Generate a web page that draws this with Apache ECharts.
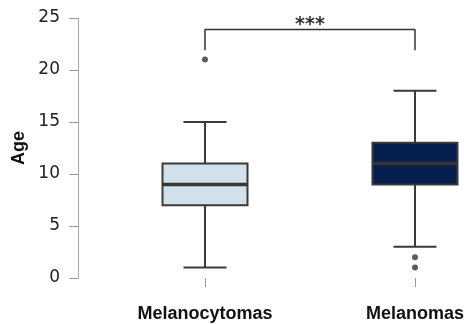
<!DOCTYPE html>
<html><head><meta charset="utf-8">
<script src="https://cdn.jsdelivr.net/npm/echarts@6/dist/echarts.min.js"></script>
<style>html,body{margin:0;padding:0;background:#fff}#c{width:467px;height:324px}</style>
</head><body><div id="c"></div>
<script>
const categories = ['Melanocytomas', 'Melanomas'];
// [min, Q1, median, Q3, max]
const boxValues = [[1, 7, 9, 11, 15], [3, 9, 11, 13, 18]];
const outliers = [[0, 21], [1, 2], [1, 1]];
const boxColors = ['#d1e1ec', '#071f4e'];
const yTicks = [0, 5, 10, 15, 20, 25];
const bracket = [[0, 21.9], [0, 23.9], [1, 23.9], [1, 21.9]];
const sigLabel = '***';
const yName = 'Age';

const chart = echarts.init(document.getElementById('c'));
const ink = '#3a3a3a';
const BOX_W = 85, CAP_W = 43;
chart.setOption({
  animation: false,
  grid: { left: 205, right: 48, top: 18, bottom: 46 },
  xAxis: {
    type: 'category', data: categories, offset: 14, boundaryGap: false,
    axisLine: { show: false },
    axisTick: { show: true, length: 9, lineStyle: { color: '#999', width: 1 } },
    axisLabel: { margin: 13, fontSize: 18, fontWeight: 'bold', color: '#111', fontFamily: 'Liberation Sans, Arial, sans-serif' },
    splitLine: { show: false }
  },
  yAxis: {
    type: 'value', min: 0, max: 25, interval: 5, offset: 127,
    name: yName, nameLocation: 'middle', nameGap: 50,
    nameTextStyle: { fontSize: 18, fontWeight: 'bold', color: '#111', fontFamily: 'Liberation Sans, Arial, sans-serif' },
    axisLine: { show: true, lineStyle: { color: '#aaa', width: 1 } },
    axisTick: { show: true, length: 9, lineStyle: { color: '#999' } },
    axisLabel: { margin: 18, fontSize: 17, color: '#222', fontFamily: 'DejaVu Sans, sans-serif',
      formatter: v => yTicks.includes(v) ? String(v) : '' },
    splitLine: { show: false }
  },
  series: [
    {
      type: 'custom',
      data: boxValues.map((v, i) => [i].concat(v)),
      renderItem: function (params, api) {
        const i = api.value(0);
        const lo = api.coord([i, api.value(1)]);
        const q1 = api.coord([i, api.value(2)]);
        const md = api.coord([i, api.value(3)]);
        const q3 = api.coord([i, api.value(4)]);
        const hi = api.coord([i, api.value(5)]);
        const x = lo[0];
        const ls = { stroke: ink, lineWidth: 2 };
        return {
          type: 'group',
          children: [
            { type: 'line', shape: { x1: x, y1: hi[1], x2: x, y2: q3[1] }, style: ls },
            { type: 'line', shape: { x1: x, y1: q1[1], x2: x, y2: lo[1] }, style: ls },
            { type: 'line', shape: { x1: x - CAP_W / 2, y1: hi[1], x2: x + CAP_W / 2, y2: hi[1] }, style: ls },
            { type: 'line', shape: { x1: x - CAP_W / 2, y1: lo[1], x2: x + CAP_W / 2, y2: lo[1] }, style: ls },
            { type: 'rect', shape: { x: x - BOX_W / 2, y: q3[1], width: BOX_W, height: q1[1] - q3[1] },
              style: { fill: boxColors[params.dataIndex], stroke: ink, lineWidth: 2 } },
            { type: 'line', shape: { x1: x - BOX_W / 2, y1: md[1], x2: x + BOX_W / 2, y2: md[1] },
              style: { stroke: '#363636', lineWidth: 3.5 } }
          ]
        };
      },
      z: 2
    },
    {
      type: 'scatter', symbol: 'circle', symbolSize: 6,
      data: outliers, itemStyle: { color: '#333' }, z: 3
    },
    {
      type: 'line', data: bracket, symbol: 'none',
      lineStyle: { color: '#333', width: 1.5 }, z: 3, silent: true
    }
  ]
});
const p0 = chart.convertToPixel({ seriesIndex: 2 }, [0, bracket[1][1]]);
const p1 = chart.convertToPixel({ seriesIndex: 2 }, [1, bracket[2][1]]);
chart.setOption({
  graphic: [{
    type: 'text', x: (p0[0] + p1[0]) / 2, y: p0[1] - 4,
    style: { text: sigLabel, fill: '#333', fontSize: 19, fontWeight: 'bold', fontFamily: 'DejaVu Sans, sans-serif',
      align: 'center', verticalAlign: 'middle' }
  }]
});
</script></body></html>
